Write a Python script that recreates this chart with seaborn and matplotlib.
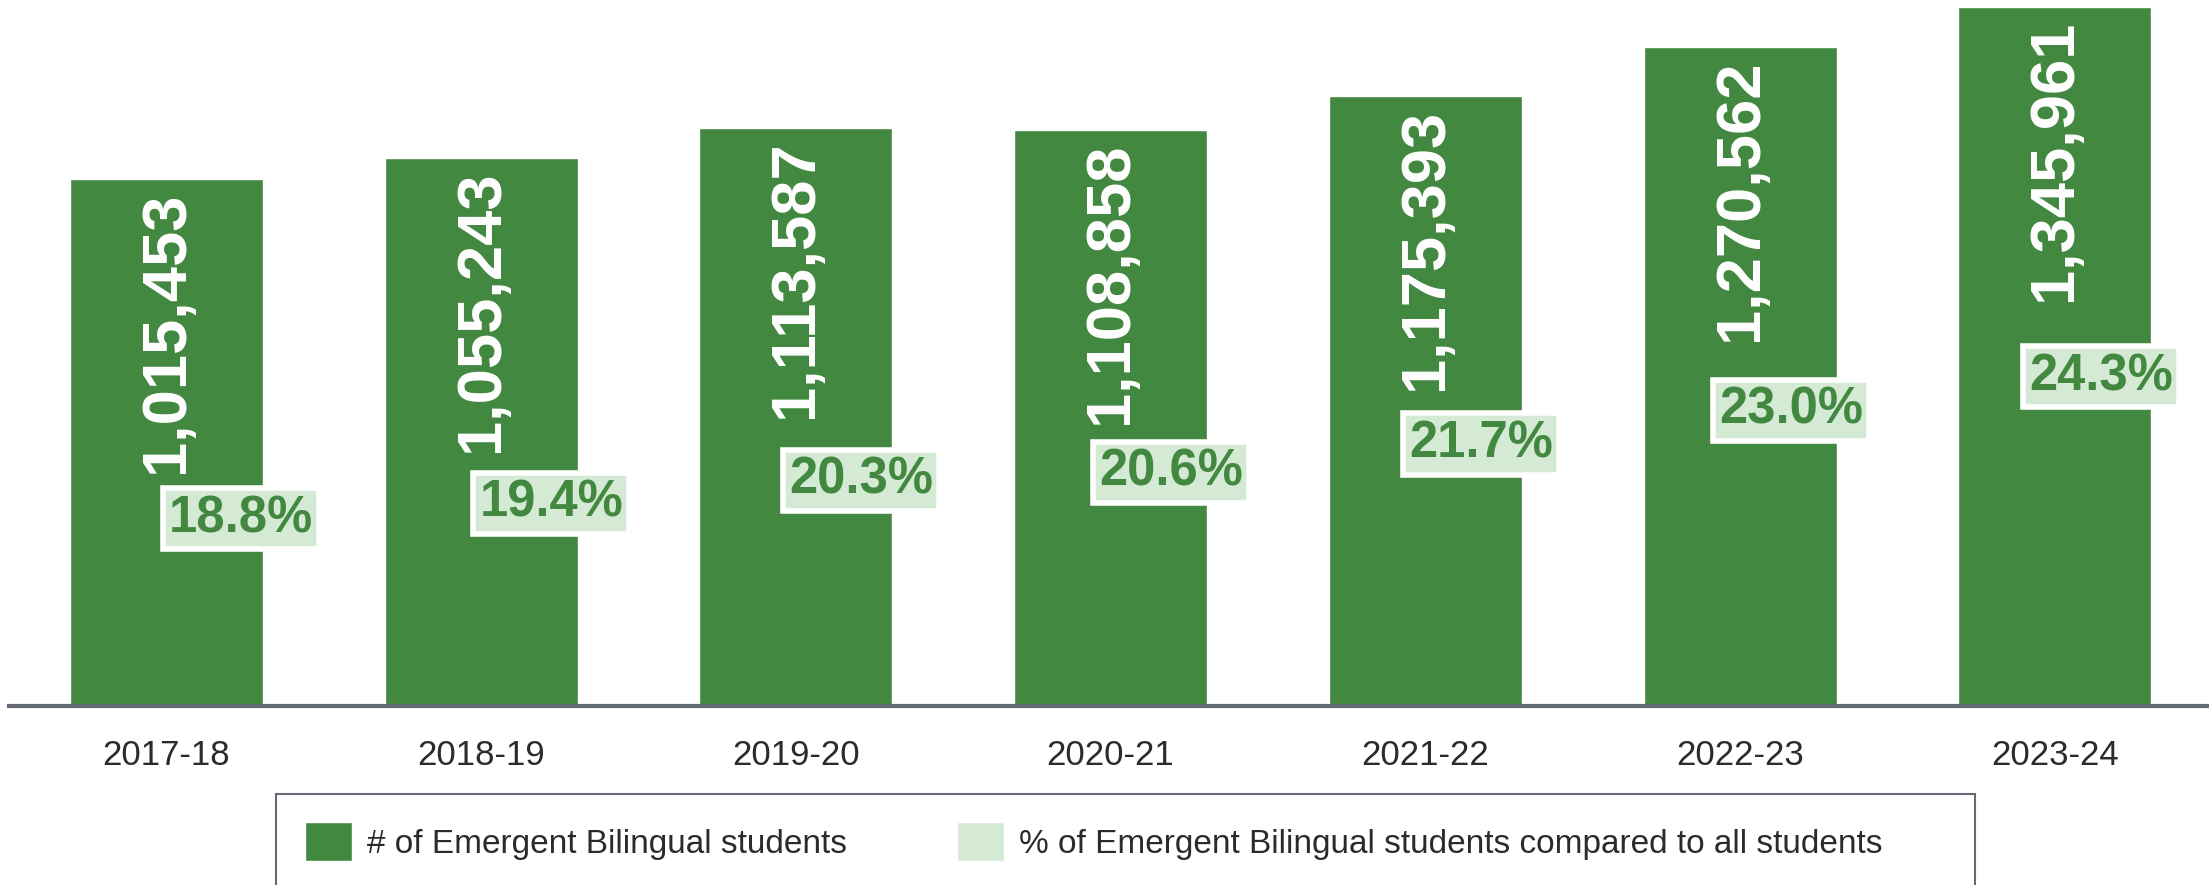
import matplotlib
matplotlib.use("Agg")
import matplotlib.pyplot as plt
import seaborn as sns
import pandas as pd
from matplotlib.patches import Patch, Rectangle

years = ["2017-18", "2018-19", "2019-20", "2020-21", "2021-22", "2022-23", "2023-24"]
students = [1015453, 1055243, 1113587, 1108858, 1175393, 1270562, 1345961]
pct_of_all = [18.8, 19.4, 20.3, 20.6, 21.7, 23.0, 24.3]
legend_labels = ["# of Emergent Bilingual students",
                 "% of Emergent Bilingual students compared to all students"]

dark_green = "#438840"
light_green = "#d5ead4"
axis_grey = "#646b75"
text_grey = "#2b2b2b"

sns.set_style("white")
plt.rcParams["font.family"] = ["Liberation Sans", "DejaVu Sans"]

df = pd.DataFrame({"year": years, "students": students, "pct": pct_of_all})

W, H = 2209, 885
fig = plt.figure(figsize=(W / 100, H / 100), dpi=100)
ax = fig.add_axes([9 / W, 1 - 706 / H, 1 - 9 / W, 706 / H])

sns.barplot(data=df, x="year", y="students", color=dark_green, saturation=1,
            width=0.613, ax=ax)
ax.set_xlim(-0.5, 6.49)
ax.set_ylim(0, 1.3603e6)
ax.set_xlabel("")
ax.set_ylabel("")
ax.set_yticks([])
for side in ["top", "left", "right"]:
    ax.spines[side].set_visible(False)
ax.spines["bottom"].set_color(axis_grey)
ax.spines["bottom"].set_linewidth(3)
ax.tick_params(axis="x", length=0, pad=24, labelsize=25, labelcolor=text_grey)

# counts written inside the bars, rotated
for i, v in enumerate(df["students"]):
    ax.annotate(f"{v:,}", (i, v), xytext=(0, -9), textcoords="offset points",
                rotation=90, ha="center", va="top", color="white",
                fontsize=45.5, fontweight="bold")

# percentage labels sit on their own (hidden) scale
ax2 = ax.twinx()
ax2.set_ylim(11.55, 38.9)
ax2.axis("off")
for i, p in enumerate(df["pct"]):
    ax2.text(i + 0.238 - 0.015 * i, p, f"{p:.1f}%", ha="center", va="center",
             fontsize=36.5, fontweight="bold", color=dark_green,
             bbox=dict(boxstyle="square,pad=0.12", fc=light_green, ec="white", lw=4))

handles = [Patch(facecolor=dark_green), Patch(facecolor=light_green)]
fig.legend(handles, legend_labels, ncol=2, loc="center left",
           bbox_to_anchor=(305 / W, 1 - 841.5 / H), frameon=False, fontsize=24,
           handlelength=1.41, handleheight=1.41, handletextpad=0.45,
           columnspacing=3.3, borderpad=0, borderaxespad=0, labelcolor=text_grey)
fig.add_artist(Rectangle((276 / W, -0.1), (1975 - 276) / W, 0.1 + 1 - 794 / H,
                         transform=fig.transFigure, fill=False, ec=axis_grey, lw=1.5))

fig.savefig("out.png", dpi=100)
